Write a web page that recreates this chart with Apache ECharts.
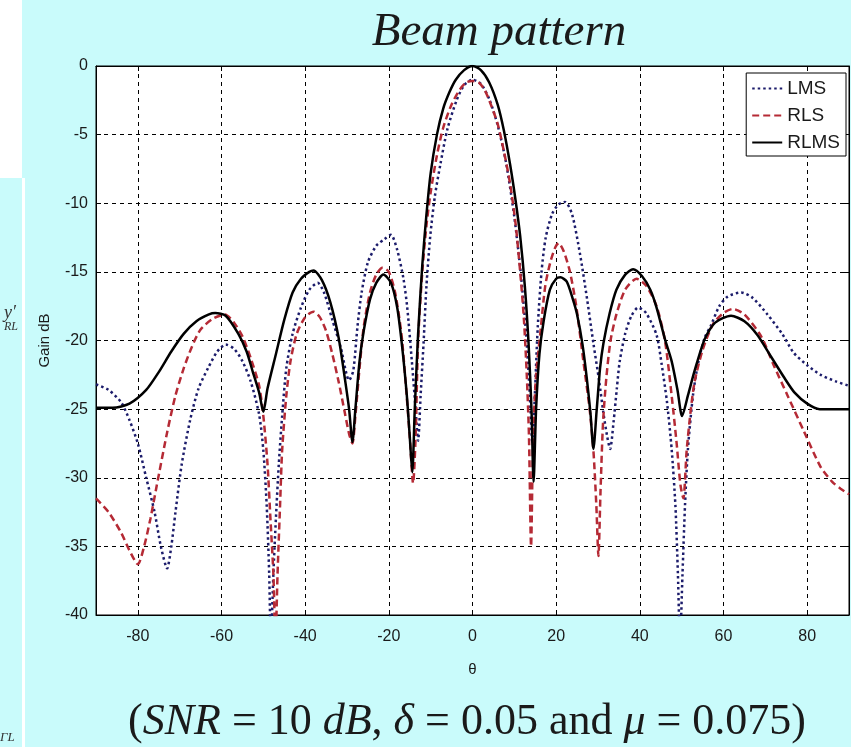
<!DOCTYPE html>
<html>
<head>
<meta charset="utf-8">
<title>Beam pattern</title>
<script src="https://cdn.jsdelivr.net/npm/echarts@6/dist/echarts.min.js"></script>
<style>
  html, body { margin: 0; padding: 0; background: #c9fbfb; }
  #chart { width: 851px; height: 747px; }
</style>
</head>
<body>
<div id="chart"></div>
<script>
// Beam pattern: gain (dB) against angle theta, for three adaptive algorithms
// values as [theta, gain dB]

const yTicks = [0, -5, -10, -15, -20, -25, -30, -35, -40];
const seriesNames = ["LMS", "RLS", "RLMS"];

const lmsData = [
  [-90, -23.2], [-87, -23.6], [-84, -24.5], [-82, -25.8], [-80, -27.5], [-78, -30],
  [-76, -32.5], [-74.5, -35], [-73, -36.6], [-72, -35], [-71, -32.5], [-69.5, -29],
  [-67.5, -25.8], [-65.5, -23.5], [-63.2, -22], [-61, -20.8], [-59, -20.3], [-57, -20.6],
  [-55, -21.5], [-53, -23], [-51, -25.4], [-50, -28], [-49.2, -32], [-48.6, -37],
  [-48.2, -42], [-47.6, -37], [-47, -33], [-46.3, -29], [-45.5, -25.5], [-44.5, -22],
  [-43, -19.5], [-41, -17.6], [-39, -16.3], [-37, -15.8], [-35.5, -16.5], [-33.5, -18.5],
  [-31.5, -20.5], [-29.5, -22.9], [-28.5, -22.2], [-27.5, -19], [-26.5, -16.5], [-25, -14.3],
  [-23, -13.1], [-21, -12.6], [-19.5, -12.3], [-18, -13.4], [-16.5, -15.5], [-15.6, -17.6],
  [-14.5, -21.5], [-13.6, -25], [-13, -27.3], [-12.4, -24], [-11.7, -20.2], [-11, -16],
  [-10.1, -12.4], [-9, -9.5], [-7.7, -7.2], [-6, -4.6], [-3.8, -2.5], [-2, -1.4],
  [0, -1.0], [2, -1.3], [4, -2.4], [6, -4.3], [8, -7], [10, -11], [11.5, -15],
  [12.8, -19.5], [13.7, -24], [14.3, -27.5], [14.9, -24], [15.6, -19], [16.5, -15],
  [17.5, -12.5], [19, -10.8], [20.5, -10.1], [22.1, -9.9], [23.8, -10.8], [25.7, -13.7],
  [27.4, -17], [28.9, -20.2], [30.3, -23], [31.3, -25.3], [32.2, -27], [32.9, -27.9],
  [33.7, -26], [34.5, -23.5], [35.2, -21.5], [36.5, -19.5], [38, -18.2], [39.6, -17.6],
  [41.5, -18], [44, -19.6], [45.2, -21.7], [46.5, -24.5], [47.6, -27.9], [48.5, -32],
  [49.1, -37], [49.6, -42], [50.2, -37], [50.8, -32], [51.5, -27.9], [52.7, -24],
  [53.9, -21.7], [55.5, -19.8], [57, -18.9], [59, -17.5], [61, -16.8], [64.2, -16.5],
  [67, -16.9], [70.5, -18.1], [74, -19.5], [76.8, -20.9], [80, -21.8], [83.2, -22.5],
  [87, -23], [90, -23.3],
];

const rlsData = [
  [-90, -31.5], [-87, -32.5], [-84, -34], [-82, -35.3], [-80, -36.3], [-78.5, -35],
  [-77, -33], [-75.5, -30.6], [-73, -26.7], [-71, -24], [-69, -22], [-67, -20.4],
  [-65, -19.2], [-62, -18.4], [-59.2, -18.1], [-57, -18.7], [-55, -19.7], [-53, -21.3],
  [-51, -23.3], [-50, -25.5], [-49, -29], [-48.3, -33], [-47.6, -37], [-47.1, -42],
  [-46.6, -37], [-46, -32], [-45.5, -28], [-44.5, -24], [-43.5, -21.5], [-42, -19.5],
  [-40, -18.3], [-38, -17.9], [-36.5, -18.3], [-35, -19.3], [-33.5, -21], [-32, -23],
  [-30.5, -25.3], [-29.5, -26.8], [-28.7, -27.5], [-28, -25.5], [-27, -22], [-26, -19],
  [-24.5, -16.5], [-23, -15.2], [-21.5, -14.7], [-20, -15], [-18.5, -16.5], [-17, -19.5],
  [-16, -23], [-15, -27], [-14.2, -30.4], [-13.6, -27], [-13, -20], [-12, -15],
  [-11, -11.6], [-10, -9.2], [-8.5, -6.5], [-7, -4.5], [-5, -2.8], [-3, -1.7],
  [-1.5, -1.2], [0, -1.1], [1.5, -1.2], [3, -1.8], [4.5, -2.9], [6, -4.2], [7.5, -6.2],
  [9, -8.6], [10.3, -11.5], [11.4, -15], [12.3, -18.5], [13, -22.7], [13.5, -27],
  [14, -35], [14.5, -27], [15.2, -22.5], [16.2, -19.5], [17.4, -16], [18.6, -14.3],
  [19.8, -13.2], [20.6, -12.9], [21.8, -13.5], [23.3, -15], [24.8, -17.5], [26.5, -21.5],
  [28, -25], [28.9, -28], [29.6, -32], [30.1, -35.7], [30.6, -31], [31.2, -26],
  [32, -22.7], [33, -20], [34.4, -18.1], [36.5, -16.3], [39.2, -15.5], [41.5, -16],
  [44, -17.5], [46, -20], [47.6, -24], [48.8, -27.5], [49.7, -30.5], [50.4, -31.5],
  [51.2, -28], [52.2, -25], [53.1, -23], [55, -20.7], [57.5, -18.8], [60, -18],
  [62.2, -17.7], [65, -18.1], [69, -19.7], [72, -21.8], [75.3, -24], [79.2, -26.6],
  [83.2, -29.2], [86, -30.3], [88, -30.8], [90, -31.2],
];

const rlmsData = [
  [-90, -24.9], [-86, -24.9], [-82, -24.6], [-78, -23.6], [-75, -22.3], [-72, -20.8],
  [-69, -19.5], [-66, -18.6], [-63, -18.1], [-61.5, -18], [-59, -18.2], [-56, -19.5],
  [-54, -20.8], [-52.5, -22.3], [-51, -23.8], [-50, -25.2], [-49, -23.5], [-47, -21],
  [-45, -18.5], [-43, -16.5], [-41, -15.5], [-39, -15], [-38, -14.9], [-36, -15.6],
  [-34, -17.2], [-32, -19.8], [-30.5, -22.8], [-29.5, -25], [-28.7, -27.4], [-28, -25],
  [-27, -21.5], [-26, -19.3], [-24.5, -17], [-23, -15.8], [-21.3, -15.2], [-19.5, -15.8],
  [-18, -17.6], [-16.8, -20.5], [-15.7, -24], [-15, -27], [-14.4, -29.6], [-13.8, -25],
  [-13, -19.5], [-12, -14.5], [-11, -10.8], [-10, -7.8], [-8.5, -5], [-7, -3.1],
  [-5.5, -1.9], [-4, -1.0], [-2, -0.3], [0, 0], [2, -0.3], [4, -1.2], [6, -2.8],
  [7.5, -4.7], [9, -7.2], [10.3, -9.8], [11.4, -12.4], [12.5, -16], [13.4, -20.2],
  [14.1, -25], [14.6, -30.3], [15.2, -25], [16, -21], [17, -18.6], [18.5, -16.3],
  [20, -15.5], [21, -15.4], [22.5, -15.7], [24, -17], [25, -18.1], [26.3, -20.3],
  [27.3, -22.7], [28.2, -25.3], [28.9, -27.9], [29.7, -25], [30.5, -22], [31.3, -20.2],
  [32.8, -18], [34.4, -16.3], [36.5, -15.2], [38.4, -14.8], [40.5, -15.3], [42.5, -16.3],
  [44, -17.6], [46, -19.9], [47.6, -21.5], [49, -23.6], [50.1, -25.5], [51.5, -24],
  [53.1, -22.2], [55.5, -19.9], [58, -18.7], [61.8, -18.2], [65, -18.6], [68.1, -19.6],
  [71, -21], [74.5, -22.7], [77, -23.8], [80, -24.6], [83, -25], [86, -25], [90, -25],
];

const seriesData = [lmsData, rlsData, rlmsData];
const seriesColors = ["#1c1c6b", "#b52a35", "#000000"];
const seriesDash = [[2.5, 3], [7, 4], "solid"];
const seriesWidth = [2.5, 2.5, 2.5];

const chart = echarts.init(document.getElementById("chart"));

const gridLine = { show: true, lineStyle: { color: "#000", width: 1, type: [4, 4] } };
const labelFont = { fontFamily: "Liberation Sans, Arial", fontSize: 16, color: "#1a1a1a" };
const frameLine = { show: true, onZero: false, lineStyle: { color: "#000", width: 1 } };
const innerTick = { show: true, inside: true, length: 5, lineStyle: { color: "#000" } };

const option = {
  backgroundColor: "#c9fbfb",
  animation: false,
  title: {
    text: "Beam pattern",
    left: 494,
    top: 4,
    textAlign: "center",
    textStyle: {
      fontFamily: "Liberation Serif, Times New Roman",
      fontStyle: "italic",
      fontWeight: "normal",
      fontSize: 47,
      color: "#1a1a1a",
    },
  },
  legend: {
    data: seriesNames,
    orient: "vertical",
    right: 5,
    top: 73,
    itemWidth: 30,
    itemHeight: 14,
    itemGap: 8,
    padding: [6, 6, 4, 5],
    backgroundColor: "#fff",
    borderColor: "#000",
    borderWidth: 1,
    borderRadius: 0,
    itemStyle: { color: "rgba(0,0,0,0)", borderWidth: 0 },
    textStyle: { fontFamily: "Liberation Sans, Arial", fontSize: 19, color: "#1a1a1a" },
  },
  grid: {
    left: 96,
    top: 66,
    width: 753,
    height: 549,
    show: true,
    backgroundColor: "#fff",
    borderColor: "#000",
    borderWidth: 1,
  },
  xAxis: [
    {
      type: "value",
      min: -90,
      max: 90,
      splitNumber: 9,
      name: "θ",
      nameLocation: "middle",
      nameGap: 47,
      nameTextStyle: { fontFamily: "Liberation Sans, Arial", fontSize: 15, color: "#1a1a1a" },
      axisLine: frameLine,
      axisTick: innerTick,
      axisLabel: { ...labelFont, margin: 14, showMinLabel: false, showMaxLabel: false },
      splitLine: gridLine,
    },
    {
      type: "value",
      position: "top",
      min: -90,
      max: 90,
      splitNumber: 9,
      axisLine: frameLine,
      axisTick: innerTick,
      axisLabel: { show: false },
      splitLine: { show: false },
    },
  ],
  yAxis: [
    {
      type: "value",
      min: yTicks[yTicks.length - 1],
      max: yTicks[0],
      interval: 5,
      name: "Gain dB",
      nameLocation: "middle",
      nameGap: 44,
      nameRotate: 90,
      nameTextStyle: { fontFamily: "Liberation Sans, Arial", fontSize: 15, color: "#1a1a1a" },
      axisLine: frameLine,
      axisTick: innerTick,
      axisLabel: { ...labelFont, margin: 8 },
      splitLine: gridLine,
    },
    {
      type: "value",
      position: "right",
      min: yTicks[yTicks.length - 1],
      max: yTicks[0],
      interval: 5,
      axisLine: frameLine,
      axisTick: innerTick,
      axisLabel: { show: false },
      splitLine: { show: false },
    },
  ],
  series: seriesNames.map((name, i) => ({
    name: name,
    type: "line",
    data: seriesData[i],
    symbol: "none",
    smooth: 0.25,
    clip: true,
    color: seriesColors[i],
    lineStyle: { color: seriesColors[i], width: seriesWidth[i], type: seriesDash[i] },
    z: 2 + i,
  })),
  graphic: [
    // white strip of the neighbouring slide at top-left
    { type: "rect", left: 0, top: 0, shape: { width: 22, height: 178 }, style: { fill: "#fff" }, z: -1 },
    { type: "rect", left: 22, top: 178, shape: { width: 3, height: 569 }, style: { fill: "#fff" }, z: 10 },
    { type: "text", left: 4, top: 304, style: { text: "y′", font: "italic 18px Liberation Serif", fill: "#333" } },
    { type: "text", left: 4, top: 321, style: { text: "RL", font: "italic 12px Liberation Serif", fill: "#333" } },
    { type: "text", left: 0, top: 731, style: { text: "ΓL", font: "italic 13px Liberation Serif", fill: "#333" } },
    {
      type: "text",
      x: 467,
      y: 722,
      style: {
        text: "({i|SNR} = 10 {i|dB}, {i|δ} = 0.05 and {i|μ} = 0.075)",
        align: "center",
        verticalAlign: "middle",
        font: "44px Liberation Serif",
        fill: "#1a1a1a",
        rich: {
          i: { fontStyle: "italic", fontFamily: "Liberation Serif", fontSize: 44, fill: "#1a1a1a" },
        },
      },
    },
  ],
};

chart.setOption(option);
</script>
</body>
</html>
